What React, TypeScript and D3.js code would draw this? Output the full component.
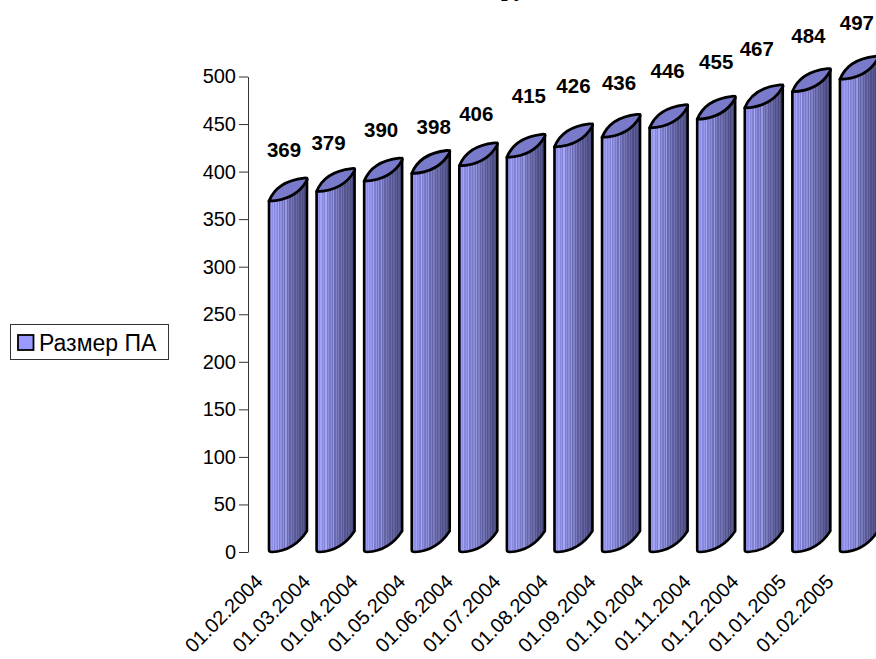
import React, { useEffect, useRef } from 'react';
import * as d3 from 'd3';

const width = 876;
const height = 659;

const dates = [
  '01.02.2004', '01.03.2004', '01.04.2004', '01.05.2004', '01.06.2004', '01.07.2004', '01.08.2004',
  '01.09.2004', '01.10.2004', '01.11.2004', '01.12.2004', '01.01.2005', '01.02.2005',
];
const values = [369, 379, 390, 398, 406, 415, 426, 436, 446, 455, 467, 484, 497];
const yTicks = [0, 50, 100, 150, 200, 250, 300, 350, 400, 450, 500];
const seriesName = 'Размер ПА';

// hand placed data labels in the original, nudge from the default spot
const labelNudgeX = [-4, -7, -2, 3, -2, 3, 0, -2, -1, 0, -7, -3, -2];
const labelNudgeY = [0, 2, 0, 4, -1, -10, -10, -3, -6, -6, -8, -5, -5];

// stripes of the cylinder side, left to right
const stripeColors = [
  '#8686dc', '#9a9af2', '#8e8ee8', '#a2a2f8', '#8888e0', '#9898ec', '#8080d6', '#a8a8f0', '#7c7cce', '#9090e0',
  '#7878c8', '#8e8ed6', '#7070be', '#9898dc', '#6a6ab4', '#8080c4', '#6464aa', '#7a7aba', '#5e5ea0', '#7272b0',
  '#5a5a98', '#6a6ea8', '#545490', '#64649e', '#505088', '#5e5e96', '#4c4c82', '#585890', '#48487c', '#505084',
];

const x = d3.scaleBand<string>().domain(dates).range([245.5, 864]).paddingInner(0).paddingOuter(0);
const y = d3.scaleLinear().domain([0, 500]).range([552, 76.5]);

const barLeft = (d: string) => (x(d) as number) + 23.5;
const depthX = 38;
const depthY = -23;

function sidePath(d: string, v: number) {
  const x0 = barLeft(d);
  const p = d3.path();
  p.moveTo(x0, y(v));
  p.lineTo(x0, y(0) - 2);
  p.quadraticCurveTo(x0, y(0), x0 + 3, y(0));
  p.quadraticCurveTo(x0 + 25, y(0) - 1, x0 + depthX, y(0) + depthY + 2);
  p.lineTo(x0 + depthX, y(v) + depthY);
  p.closePath();
  return p.toString();
}

function topPath(d: string, v: number) {
  const x0 = barLeft(d);
  const p = d3.path();
  p.moveTo(x0, y(v));
  p.quadraticCurveTo(x0 + 8, y(v) + depthY + 3, x0 + depthX - 3, y(v) + depthY);
  p.quadraticCurveTo(x0 + depthX + 1, y(v) + depthY - 0.5, x0 + depthX, y(v) + depthY + 2);
  p.quadraticCurveTo(x0 + 27, y(v) - 1, x0, y(v));
  p.closePath();
  return p.toString();
}

function App() {
  const yAxisRef = useRef<SVGGElement>(null);
  const marksRef = useRef<SVGGElement>(null);

  useEffect(() => {
    d3.select(yAxisRef.current as SVGGElement)
      .call(d3.axisLeft(y).tickValues(yTicks).tickSize(9).tickSizeOuter(0).tickPadding(3) as any)
      .call((g: any) => g.selectAll('text').attr('font-size', 20).attr('fill', '#000'))
      .call((g: any) => g.selectAll('line').attr('stroke', '#333'))
      .call((g: any) => g.select('.domain').attr('stroke', '#333'))
      .attr('font-family', '"Liberation Sans", Arial, sans-serif');

    const marks = d3.select(marksRef.current as SVGGElement);
    marks.selectAll('*').remove();

    const bars = marks
      .selectAll('g')
      .data(dates.map((d, i) => ({ d, v: values[i], i })))
      .join('g');

    bars
      .append('path')
      .attr('d', (b) => sidePath(b.d, b.v))
      .attr('fill', 'url(#side)')
      .attr('stroke', '#000')
      .attr('stroke-width', 2.6)
      .attr('stroke-linejoin', 'round');

    bars
      .append('path')
      .attr('d', (b) => topPath(b.d, b.v))
      .attr('fill', '#7a7acb')
      .attr('stroke', '#000')
      .attr('stroke-width', 2.8)
      .attr('stroke-linejoin', 'round');

    bars
      .append('text')
      .attr('x', (b) => barLeft(b.d) + 19 + labelNudgeX[b.i])
      .attr('y', (b) => y(b.v) - 44 + labelNudgeY[b.i])
      .attr('text-anchor', 'middle')
      .attr('font-family', '"Liberation Sans", Arial, sans-serif')
      .attr('font-size', 20.5)
      .attr('font-weight', 'bold')
      .text((b) => b.v);

    bars
      .append('text')
      .attr('transform', (b) => `translate(${barLeft(b.d) - 5},583) rotate(-45)`)
      .attr('text-anchor', 'end')
      .attr('font-family', '"Liberation Sans", Arial, sans-serif')
      .attr('font-size', 20)
      .text((b) => b.d);
  }, []);

  return (
    <svg
      width={width}
      height={height}
      viewBox={`0 0 ${width} ${height}`}
      style={{ position: 'absolute', left: 0, top: 0, background: '#fff' }}
    >
      <defs>
        <linearGradient id="side" x1="0" x2="1" y1="0" y2="0">
          {stripeColors.flatMap((c, i) => [
            <stop key={`${i}a`} offset={i / stripeColors.length} stopColor={c} />,
            <stop key={`${i}b`} offset={(i + 1) / stripeColors.length} stopColor={c} />,
          ])}
        </linearGradient>
      </defs>

      {/* title is cut off by the top of the picture, only the descenders show */}
      <text x={501} y={-4} fontFamily='"Liberation Serif", serif' fontSize={24} fontWeight="bold">
        ру
      </text>

      <g ref={yAxisRef} transform="translate(248,0)" />
      <g ref={marksRef} />

      <g fontFamily='"Liberation Sans", Arial, sans-serif'>
        <rect x={10.5} y={324.5} width={158} height={35} fill="#fff" stroke="#333" />
        <rect x={18} y={335} width={15.5} height={15} fill="#9999ff" stroke="#000" strokeWidth={1.8} />
        <text x={39} y={351} fontSize={23}>
          {seriesName}
        </text>
      </g>
    </svg>
  );
}

export default App;
